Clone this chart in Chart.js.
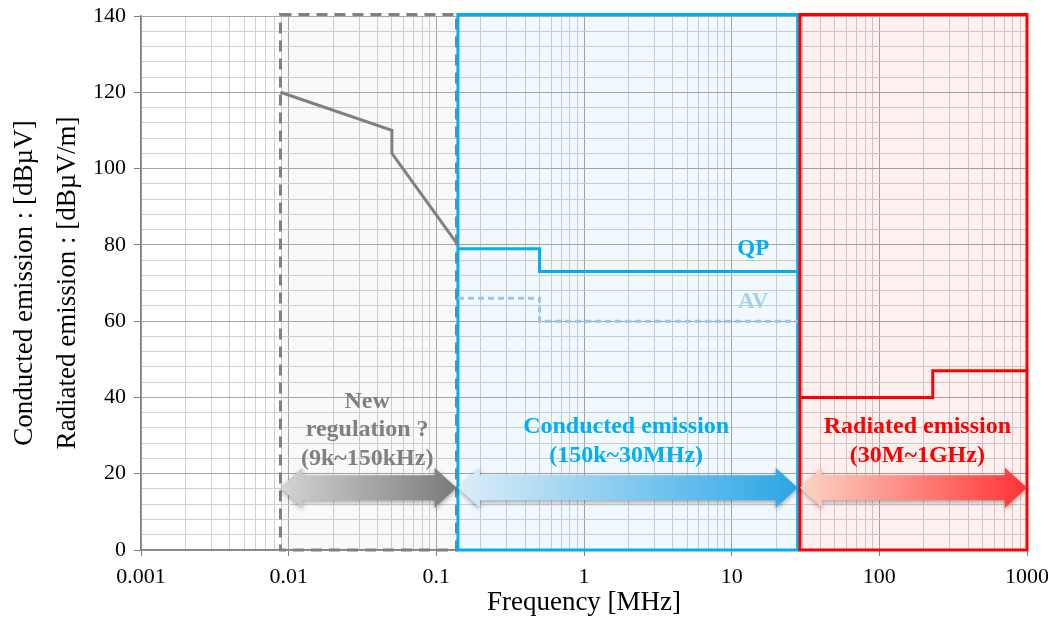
<!DOCTYPE html>
<html lang="en">
<head>
    <meta charset="UTF-8">
    <title>EMI limits</title>
    <script src="https://cdn.jsdelivr.net/npm/chart.js"></script>
    <style>
        body { margin: 0; background: #fff; }
        #wrap { width: 1053px; height: 619px; position: relative; }
    </style>
</head>
<body>
    <div id="wrap"><canvas id="emiChart"></canvas></div>

    <script>
        // x axis (MHz, log) and y axis (dB) ticks
        const X_DECADES = [0.001, 0.01, 0.1, 1, 10, 100, 1000];
        const X_TICK_LABELS = ['0.001', '0.01', '0.1', '1', '10', '100', '1000'];
        const Y_MAJOR = [0, 20, 40, 60, 80, 100, 120, 140];

        // limit lines
        const NEW_X = [0.0088, 0.05, 0.05, 0.14];
        const NEW_Y = [120, 110, 104, 80];
        const QP_X = [0.14, 0.5, 0.5, 28];
        const QP_Y = [79, 79, 73, 73];
        const AV_X = [0.14, 0.5, 0.5, 28];
        const AV_Y = [66, 66, 60, 60];
        const RAD_X = [29, 230, 230, 1000];
        const RAD_Y = [40, 40, 47, 47];

        // frequency bands (new regulation / conducted / radiated)
        const BAND_LO = [0.0088, 0.14, 29];
        const BAND_HI = [0.137, 28, 1000];
        const BAND_TEXT = [
            ['New', 'regulation ?', '(9k~150kHz)'],
            ['Conducted emission', '(150k~30MHz)'],
            ['Radiated emission', '(30M~1GHz)']
        ];
        const BAND_TEXT_X = [0.034, 1.93, 181];
        const BAND_TEXT_Y = [38.9, 32.3, 32.3];
        const ARROW_Y = 16.3;

        const colGray = '#808080';
        const colBlue = '#00b0f0';
        const colRed = '#ff0000';
        const serif = "'Liberation Serif', 'Times New Roman', serif";

        const xGrid = [];
        X_DECADES.forEach((d, i) => {
            if (i === X_DECADES.length - 1) { xGrid.push(d); return; }
            for (let m = 1; m <= 9; m++) xGrid.push(Number((m * d).toPrecision(6)));
        });
        const isDecade = v => X_DECADES.some(d => Math.abs(d - v) / d < 1e-6);

        const pts = (xs, ys) => xs.map((x, i) => ({ x: x, y: ys[i] }));

        function arrow(ctx, x1, x2, y, c1, c2) {
            const bh = 12.5, hh = 20, hl = 22;
            const g = ctx.createLinearGradient(x1, 0, x2, 0);
            g.addColorStop(0, c1);
            g.addColorStop(1, c2);
            ctx.save();
            ctx.shadowColor = 'rgba(0,0,0,0.35)';
            ctx.shadowBlur = 5;
            ctx.shadowOffsetY = 2;
            ctx.beginPath();
            ctx.moveTo(x1, y);
            ctx.lineTo(x1 + hl, y - hh);
            ctx.lineTo(x1 + hl, y - bh);
            ctx.lineTo(x2 - hl, y - bh);
            ctx.lineTo(x2 - hl, y - hh);
            ctx.lineTo(x2, y);
            ctx.lineTo(x2 - hl, y + hh);
            ctx.lineTo(x2 - hl, y + bh);
            ctx.lineTo(x1 + hl, y + bh);
            ctx.lineTo(x1 + hl, y + hh);
            ctx.closePath();
            ctx.fillStyle = g;
            ctx.fill();
            ctx.restore();
        }

        const bandPlugin = {
            id: 'bands',
            beforeDatasetsDraw(chart) {
                const { ctx, scales: { x, y } } = chart;
                const top = y.getPixelForValue(140), bot = y.getPixelForValue(0);
                const fills = ['rgba(128,128,128,0.05)', 'rgba(0,150,230,0.055)', 'rgba(255,0,0,0.06)'];
                const strokes = [colGray, colBlue, colRed];
                ctx.save();
                BAND_LO.forEach((lo, i) => {
                    const l = x.getPixelForValue(lo), r = x.getPixelForValue(BAND_HI[i]);
                    ctx.fillStyle = fills[i];
                    ctx.fillRect(l, top, r - l, bot - top);
                });
                BAND_LO.forEach((lo, i) => {
                    const l = x.getPixelForValue(lo), r = x.getPixelForValue(BAND_HI[i]);
                    ctx.lineWidth = 3;
                    ctx.strokeStyle = strokes[i];
                    ctx.setLineDash(i === 0 ? [11, 7] : []);
                    ctx.strokeRect(l, top - 1.5, r - l, bot - top + 1.5);
                });
                ctx.restore();
            },
            afterDatasetsDraw(chart) {
                const { ctx, scales: { x, y } } = chart;
                const ay = y.getPixelForValue(ARROW_Y);
                const grads = [['#d4d4d4', '#7a7a7a'], ['#dcedf8', '#2aa6e6'], ['#fbd6c6', '#ff3333']];
                const txtCols = [colGray, colBlue, colRed];
                BAND_LO.forEach((lo, i) => {
                    arrow(ctx, x.getPixelForValue(lo), x.getPixelForValue(BAND_HI[i]), ay, grads[i][0], grads[i][1]);
                });
                ctx.save();
                ctx.font = 'bold 24px ' + serif;
                ctx.textAlign = 'center';
                ctx.textBaseline = 'middle';
                BAND_TEXT.forEach((lines, i) => {
                    const cx = x.getPixelForValue(BAND_TEXT_X[i]);
                    const cy = y.getPixelForValue(BAND_TEXT_Y[i]);
                    ctx.fillStyle = txtCols[i];
                    lines.forEach((t, j) => ctx.fillText(t, cx, cy + j * 28.5));
                });
                ctx.font = 'bold 23px ' + serif;
                ctx.fillStyle = colBlue;
                ctx.fillText('QP', x.getPixelForValue(14), y.getPixelForValue(79));
                ctx.fillStyle = '#a4d3e6';
                ctx.fillText('AV', x.getPixelForValue(14), y.getPixelForValue(65));
                ctx.restore();
            }
        };

        const ctx = document.getElementById('emiChart').getContext('2d');
        new Chart(ctx, {
            type: 'line',
            data: {
                datasets: [
                    { data: pts(NEW_X, NEW_Y), borderColor: colGray, borderWidth: 3 },
                    { data: pts(QP_X, QP_Y), borderColor: colBlue, borderWidth: 3 },
                    { data: pts(AV_X, AV_Y), borderColor: '#9dc3e6', borderWidth: 3, borderDash: [6, 4] },
                    { data: pts(RAD_X, RAD_Y), borderColor: colRed, borderWidth: 3 }
                ]
            },
            options: {
                responsive: true,
                maintainAspectRatio: false,
                animation: false,
                layout: { padding: { top: 16, right: 26, left: 0, bottom: 0 } },
                elements: { point: { radius: 0 }, line: { tension: 0, fill: false } },
                plugins: { legend: { display: false }, tooltip: { enabled: false } },
                scales: {
                    x: {
                        type: 'logarithmic',
                        min: 0.001,
                        max: 1000,
                        afterBuildTicks: s => { s.ticks = xGrid.map(v => ({ value: v })); },
                        afterFit: s => { s.height = 69; s.paddingLeft = 0; s.paddingRight = 0; },
                        border: { color: colGray, width: 1.5 },
                        grid: {
                            color: c => isDecade(c.tick.value) ? '#a6a6a6' : '#d0d0d0',
                            tickColor: c => isDecade(c.tick.value) ? colGray : 'rgba(0,0,0,0)',
                            tickLength: 6
                        },
                        ticks: {
                            autoSkip: false,
                            maxRotation: 0,
                            padding: 8,
                            color: '#000',
                            font: { family: serif, size: 22 },
                            callback: v => {
                                const i = X_DECADES.findIndex(d => Math.abs(d - v) / d < 1e-6);
                                return i >= 0 ? X_TICK_LABELS[i] : '';
                            }
                        },
                        title: {
                            display: true,
                            text: 'Frequency [MHz]',
                            color: '#000',
                            font: { family: serif, size: 27, lineHeight: 1.2 },
                            padding: { top: 0, bottom: 0 }
                        }
                    },
                    y: {
                        min: 0,
                        max: 140,
                        afterFit: s => { s.width = 141; s.paddingTop = 0; s.paddingBottom = 0; },
                        border: { color: colGray, width: 1.5 },
                        grid: {
                            color: c => Y_MAJOR.includes(c.tick.value) ? '#a6a6a6' : '#d0d0d0',
                            tickColor: c => Y_MAJOR.includes(c.tick.value) ? colGray : 'rgba(0,0,0,0)',
                            tickLength: 7
                        },
                        ticks: {
                            stepSize: 4,
                            autoSkip: false,
                            padding: 8,
                            color: '#000',
                            font: { family: serif, size: 22 },
                            callback: v => Y_MAJOR.includes(v) ? String(v) : ''
                        },
                        title: {
                            display: true,
                            text: ['Conducted emission : [dB\u00b5V]', 'Radiated emission : [dB\u00b5V/m]'],
                            color: '#000',
                            font: { family: serif, size: 27, lineHeight: 1.6 },
                            padding: { top: 3, bottom: 0 }
                        }
                    }
                }
            },
            plugins: [bandPlugin]
        });
    </script>
</body>
</html>
